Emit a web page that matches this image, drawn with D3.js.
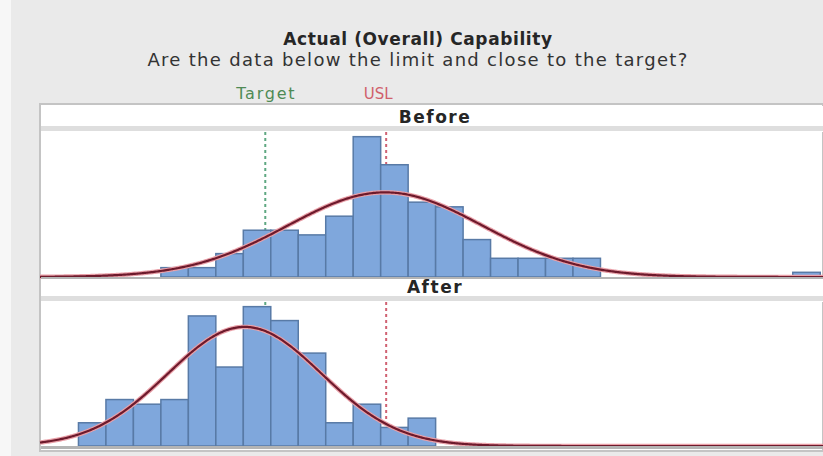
<!DOCTYPE html>
<html>
<head>
<meta charset="utf-8">
<script src="https://cdn.jsdelivr.net/npm/d3@7"></script>
<style>
  body { margin: 0; background: #eaeaea; }
  svg { display: block; font-family: "DejaVu Sans", sans-serif; }
</style>
</head>
<body>
<div id="chart"></div>
<script>
(function () {

  // Histogram counts, one per unit bin starting at 0
  const beforeCounts = [0, 0, 0, 0, 2, 2, 5, 10, 10, 9, 13, 30, 24, 16, 15, 8, 4, 4, 4, 4, 0, 0, 0, 0, 0, 0, 0, 1]
  const afterCounts = [0, 5, 10, 9, 10, 28, 17, 30, 27, 20, 5, 9, 4, 6]

  // Fitted normal parameters
  const beforeFit = [12.16, 3.55]
  const afterFit = [7.05, 2.8]

  // Spec lines
  const target = 7.8
  const usl = 12.2

  const panels = ["Before", "After"]

  const width = 823
  const height = 456

  const svg = d3.select("#chart").append("svg")
      .attr("width", width)
      .attr("height", height)

  // Background pieces
  svg.append("rect").attr("width", width).attr("height", height).attr("fill", "#eaeaea")
  svg.append("rect").attr("width", 11).attr("height", height).attr("fill", "#f7f7f7")

  // Titles
  svg.append("text")
    .attr("x", 418).attr("y", 45)
    .attr("text-anchor", "middle")
    .attr("font-size", 17).attr("font-weight", "bold")
    .attr("letter-spacing", 0.6)
    .attr("fill", "#262626")
    .text("Actual (Overall) Capability")

  svg.append("text")
    .attr("x", 418).attr("y", 66)
    .attr("text-anchor", "middle")
    .attr("font-size", 18)
    .attr("letter-spacing", 1.3)
    .attr("fill", "#333")
    .text("Are the data below the limit and close to the target?")

  const x = d3.scaleLinear()
    .domain([-0.4, 28.1])
    .range([40, 823])

  svg.append("text")
    .attr("x", x(target) + 1).attr("y", 99)
    .attr("text-anchor", "middle")
    .attr("font-size", 16)
    .attr("letter-spacing", 1.8)
    .attr("fill", "#4f8a55")
    .text("Target")

  svg.append("text")
    .attr("x", x(usl) - 8).attr("y", 99)
    .attr("text-anchor", "middle")
    .attr("font-size", 15)
    .attr("fill", "#d0606c")
    .text("USL")

  // Outer panel frame
  svg.append("rect")
    .attr("x", 40).attr("y", 104)
    .attr("width", 783).attr("height", 347)
    .attr("fill", "#fff")
    .attr("stroke", "#c4c4c4").attr("stroke-width", 2)

  const normal = (v, m, s) => Math.exp(-0.5 * ((v - m) / s) ** 2) / (s * Math.sqrt(2 * Math.PI))

  const layout = [
    { name: panels[0], counts: beforeCounts, fit: beforeFit, stripTop: 106, top: 132, base: 277 },
    { name: panels[1], counts: afterCounts, fit: afterFit, stripTop: 279, top: 302, base: 446 }
  ]

  layout.forEach(p => {
    const g = svg.append("g")

    // Strip header
    g.append("rect")
      .attr("x", 41).attr("y", p.stripTop)
      .attr("width", 782).attr("height", p.top - p.stripTop)
      .attr("fill", "#fff")
    g.append("rect")
      .attr("x", 41).attr("y", p.top - 6)
      .attr("width", 782).attr("height", 5)
      .attr("fill", "#dedede")
    g.append("text")
      .attr("x", 435).attr("y", p.top - 9)
      .attr("text-anchor", "middle")
      .attr("font-size", 17).attr("font-weight", "bold")
      .attr("letter-spacing", 1.5)
      .attr("fill", "#262626")
      .text(p.name)

    const y = d3.scaleLinear()
      .domain([0, 31])
      .range([p.base, p.top])

    // Spec lines sit behind the bars
    g.append("line")
      .attr("x1", x(target)).attr("x2", x(target))
      .attr("y1", p.top).attr("y2", p.base)
      .attr("stroke", "#5fa882").attr("stroke-width", 2)
      .attr("stroke-dasharray", "3,3")
    g.append("line")
      .attr("x1", x(usl)).attr("x2", x(usl))
      .attr("y1", p.top).attr("y2", p.base)
      .attr("stroke", "#d06272").attr("stroke-width", 2)
      .attr("stroke-dasharray", "3,3")

    const bins = p.counts.map((c, i) => ({ x0: i, x1: i + 1, count: c })).filter(d => d.count > 0)

    g.selectAll("rect.bar")
      .data(bins)
      .join("rect")
      .attr("class", "bar")
      .attr("x", d => x(d.x0))
      .attr("y", d => y(d.count))
      .attr("width", d => x(d.x1) - x(d.x0))
      .attr("height", d => p.base - y(d.count))
      .attr("fill", "#7fa7dc")
      .attr("stroke", "#587aa6")
      .attr("stroke-width", 1.5)

    // Normal curve scaled to the counts
    const n = d3.sum(p.counts)
    const pts = d3.range(-0.4, 28.11, 0.05).map(v => [v, n * normal(v, p.fit[0], p.fit[1])])
    const line = d3.line()
      .x(d => x(d[0]))
      .y(d => y(d[1]))
      .curve(d3.curveBasis)

    g.append("path")
      .datum(pts)
      .attr("fill", "none")
      .attr("stroke", "#e9a0a8")
      .attr("stroke-width", 4.5)
      .attr("d", line)
    g.append("path")
      .datum(pts)
      .attr("fill", "none")
      .attr("stroke", "#6e1a2c")
      .attr("stroke-width", 2.2)
      .attr("d", line)

    // Baseline
    g.append("line")
      .attr("x1", 41).attr("x2", 823)
      .attr("y1", p.base + 1.5).attr("y2", p.base + 1.5)
      .attr("stroke", "#b4b4b4").attr("stroke-width", 3)
  })

})();
</script>
</body>
</html>
